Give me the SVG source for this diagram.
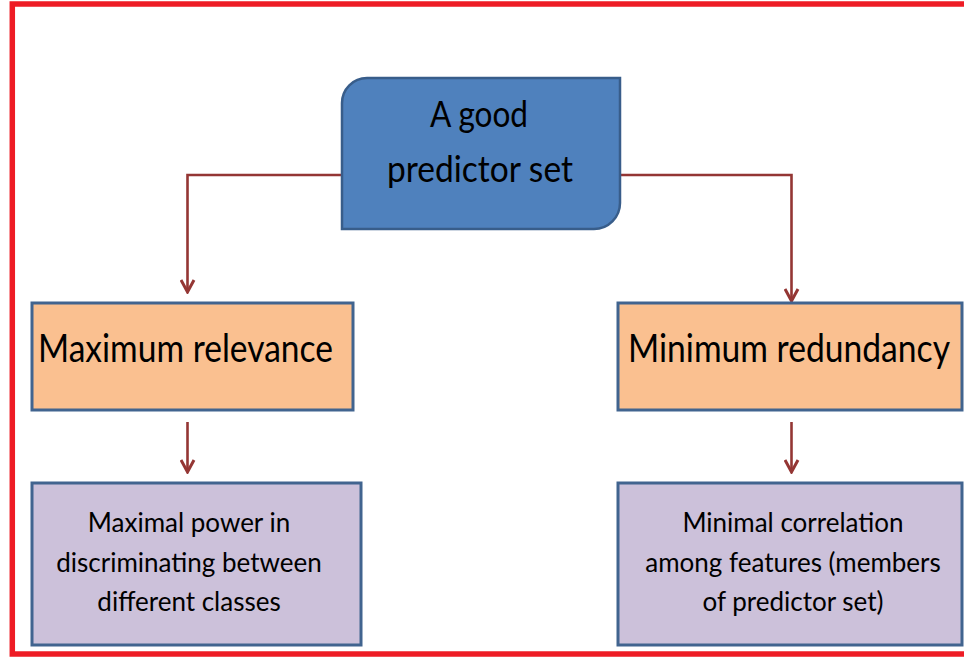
<svg xmlns="http://www.w3.org/2000/svg" width="964" height="658" viewBox="0 0 964 658">
<defs>
<marker id="arr" viewBox="0 0 16 16" refX="14" refY="8" markerWidth="16" markerHeight="16" markerUnits="userSpaceOnUse" orient="auto">
<path d="M2,1.5 L14,8 L2,14.5" fill="none" stroke="#943634" stroke-width="3"/>
</marker>
</defs>
<style>
.frame{fill:none;stroke:#EE1C25;stroke-width:5.5}
.top{fill:#4F81BD;stroke:#385D8A;stroke-width:2.5}
.mid{fill:#FAC090;stroke:#41648F;stroke-width:3}
.low{fill:#CCC1DA;stroke:#41648F;stroke-width:3}
.conn{fill:none;stroke:#943634;stroke-width:2.6;marker-end:url(#arr)}
text{font-family:Lato,"Open Sans","Liberation Sans",sans-serif;fill:#000}
.t1{font-size:37px;text-anchor:middle}
.t2{font-size:39px}
.t3{font-size:26px;text-anchor:middle}
</style>
<rect width="964" height="658" fill="#FFFFFF"/>
<rect class="frame" x="12.3" y="4" width="980" height="650"/>
<g id="connectors">
<path class="conn" d="M342,175 H187.5 V292"/>
<path class="conn" d="M620,175 H791.5 V301"/>
<path class="conn" d="M187.5,422 V472"/>
<path class="conn" d="M791.5,422 V472"/>
</g>
<g id="node-top">
<path class="top" d="M342,229 V103 A25,25 0 0 1 367,78 H620 V203 A26,26 0 0 1 594,229 Z"/>
<text class="t1" x="479" y="127" textLength="98" lengthAdjust="spacingAndGlyphs">A good</text>
<text class="t1" x="480" y="182" textLength="186" lengthAdjust="spacingAndGlyphs">predictor set</text>
</g>
<g id="node-max-relevance">
<rect class="mid" x="32" y="303" width="321" height="107"/>
<text class="t2" x="38" y="362" textLength="295" lengthAdjust="spacingAndGlyphs">Maximum relevance</text>
</g>
<g id="node-min-redundancy">
<rect class="mid" x="618" y="303" width="344" height="107"/>
<text class="t2" x="628" y="362" textLength="322" lengthAdjust="spacingAndGlyphs">Minimum redundancy</text>
</g>
<g id="node-max-power">
<rect class="low" x="32" y="483" width="329" height="162"/>
<text class="t3" x="189" y="532">Maximal power in</text>
<text class="t3" x="189" y="572">discriminating between</text>
<text class="t3" x="189" y="611">different classes</text>
</g>
<g id="node-min-correlation">
<rect class="low" x="618" y="483" width="344" height="162"/>
<text class="t3" x="793" y="532">Minimal correlation</text>
<text class="t3" x="793" y="572">among features (members</text>
<text class="t3" x="793" y="611">of predictor set)</text>
</g>
</svg>
